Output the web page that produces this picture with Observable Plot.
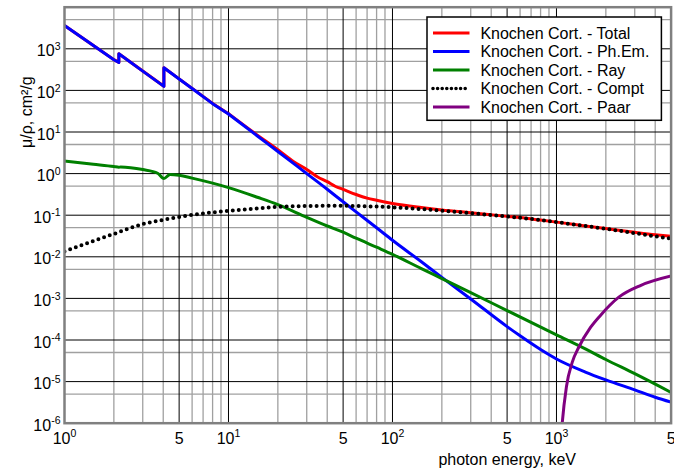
<!DOCTYPE html>
<html>
<head>
<meta charset="utf-8">
<script src="https://cdn.jsdelivr.net/npm/d3@7"></script>
<script src="https://cdn.jsdelivr.net/npm/@observablehq/plot@0.6"></script>
<style>
  html, body { margin: 0; padding: 0; background: white; overflow: hidden; }
  #wrap { position: relative; width: 674px; height: 472px; }
  #legend { position: absolute; left: 426.3px; top: 15.7px; }
</style>
</head>
<body>
<div id="wrap">
  <div id="chart"></div>
  <svg id="legend" width="237" height="106"></svg>
</div>
<script>
// ---------- data (keV, cm²/g) ----------
const seriesNames = ["Knochen Cort. - Total", "Knochen Cort. - Ph.Em.", "Knochen Cort. - Ray", "Knochen Cort. - Compt", "Knochen Cort. - Paar"];
const seriesColors = ["#ff0000", "#0000ff", "#008000", "#000000", "#800080"];

const totalEnergy = [1, 1.5, 2, 2.145, 2.145, 3, 4.038, 4.038, 5, 6, 8, 10, 15, 20, 25, 30, 35, 40, 45, 50, 60, 70, 80, 100, 150, 200, 300, 500, 600, 800, 1000, 1500, 2000, 3000, 4000, 5000];
const totalValues = [3632, 1202, 549, 471.5, 761.5, 292, 126, 351, 189, 112, 48.7, 27.6, 8.4, 3.74, 1.93, 1.26, 0.83, 0.64, 0.49, 0.417, 0.314, 0.257, 0.228, 0.1915, 0.153, 0.134, 0.1144, 0.0937, 0.0875, 0.0762, 0.0682, 0.0553, 0.0477, 0.0388, 0.0339, 0.0311];

const photoEnergy = [1, 1.5, 2, 2.145, 2.145, 3, 4.038, 4.038, 5, 6, 8, 10, 15, 20, 30, 40, 50, 60, 80, 100, 150, 200, 300, 500, 600, 800, 1000, 1500, 2000, 3000, 4000, 5000];
const photoValues = [3630, 1200, 547, 470, 760, 291, 125, 350, 188, 111, 48, 27, 8.0, 3.4, 1.0, 0.42, 0.21, 0.12, 0.05, 0.025, 0.0076, 0.0032, 9.7e-4, 2.1e-4, 1.26e-4, 5.9e-5, 3.5e-5, 1.7e-5, 1.1e-5, 6.3e-6, 4.2e-6, 3.2e-6];

const rayEnergy = [1, 1.5, 2, 2.145, 2.2, 3, 3.7, 4.038, 4.4, 5, 6, 8, 10, 15, 20, 30, 40, 50, 60, 80, 100, 150, 200, 300, 500, 1000, 1500, 2000, 3000, 5000];
const rayValues = [2.0, 1.68, 1.48, 1.42, 1.44, 1.25, 1.02, 0.76, 0.95, 0.91, 0.78, 0.59, 0.46, 0.27, 0.18, 0.089, 0.055, 0.039, 0.028, 0.017, 0.0115, 0.0052, 0.003, 1.38e-3, 5.1e-4, 1.33e-4, 6.1e-5, 3.4e-5, 1.55e-5, 5.5e-6];

const comptEnergy = [1, 1.5, 2, 3, 4, 5, 6, 8, 10, 15, 20, 30, 40, 50, 60, 80, 100, 150, 200, 300, 500, 600, 800, 1000, 1500, 2000, 3000, 4000, 5000];
const comptValues = [0.0135, 0.024, 0.0355, 0.061, 0.077, 0.091, 0.102, 0.117, 0.127, 0.146, 0.158, 0.166, 0.168, 0.168, 0.166, 0.161, 0.155, 0.140, 0.128, 0.112, 0.093, 0.087, 0.076, 0.068, 0.055, 0.047, 0.037, 0.031, 0.0275];

const pairEnergy = [1040, 1084, 1150, 1247, 1368, 1613, 1854, 2400, 3250, 5000];
const pairValues = [1e-7, 1e-6, 7.5e-6, 2.9e-5, 6.7e-5, 2.0e-4, 3.9e-4, 1.07e-3, 2.04e-3, 3.45e-3];

// ---------- axes / ticks ----------
const xDomain = [1, 5000];
const yDomain = [1e-6, 1e4];
const xTickValues = [1, 5, 10, 50, 100, 500, 1000, 5000];
const xTickLabels = ["10^0", "5", "10^1", "5", "10^2", "5", "10^3", "5"];
const yTickValues = [1e-6, 1e-5, 1e-4, 1e-3, 1e-2, 1e-1, 1, 10, 100, 1000];
const yTickLabels = ["10^-6", "10^-5", "10^-4", "10^-3", "10^-2", "10^-1", "10^0", "10^1", "10^2", "10^3"];
const xDecades = [1, 10, 100, 1000];
const xFives = [5, 50, 500];
const minorMultipliers = [2, 3, 4, 6, 7, 8, 9];
const yDecades = [1e-6, 1e-5, 1e-4, 1e-3, 1e-2, 1e-1, 1, 10, 100, 1000, 1e4];
const yFives = [5e-6, 5e-5, 5e-4, 5e-3, 5e-2, 5e-1, 5, 50, 500, 5000];
const xMinor = xDecades.flatMap(d => minorMultipliers.map(m => d * m)).filter(v => v < 5000);

const toRows = (E, V) => E.map((e, i) => ({e, v: V[i]}));
const total = toRows(totalEnergy, totalValues);
const photo = toRows(photoEnergy, photoValues);
const ray = toRows(rayEnergy, rayValues);
const compt = toRows(comptEnergy, comptValues);
const pair = toRows(pairEnergy, pairValues);

const font = "'Liberation Sans', Arial, sans-serif";
const edgeRegion = d => d.e <= 10;   // absorption-edge sawtooth: straight segments
const smoothRegion = d => d.e >= 10; // above the edges: smooth curve

const chart = Plot.plot({
  width: 674,
  height: 472,
  marginLeft: 64,
  marginRight: 3.4,
  marginTop: 6.7,
  marginBottom: 49.3,
  style: {fontFamily: font, fontSize: "16px", background: "white", color: "black"},
  x: {type: "log", domain: xDomain, axis: null},
  y: {type: "log", domain: yDomain, axis: null},
  marks: [
    Plot.ruleX(xMinor, {stroke: "#a0a0a0", strokeWidth: 1.3}),
    Plot.ruleY(yFives, {stroke: "#a0a0a0", strokeWidth: 1.3}),
    Plot.ruleY(yDecades, {stroke: "#000", strokeWidth: 1}),
    Plot.ruleX(xFives, {stroke: "#000", strokeWidth: 1}),
    Plot.ruleX(xDecades, {stroke: "#000", strokeWidth: 1}),
    Plot.line(total, {x: "e", y: "v", filter: edgeRegion, stroke: seriesColors[0], strokeWidth: 3, clip: true}),
    Plot.line(total, {x: "e", y: "v", filter: smoothRegion, stroke: seriesColors[0], strokeWidth: 3, curve: "monotone-x", clip: true}),
    Plot.line(photo, {x: "e", y: "v", filter: edgeRegion, stroke: seriesColors[1], strokeWidth: 3, clip: true}),
    Plot.line(photo, {x: "e", y: "v", filter: smoothRegion, stroke: seriesColors[1], strokeWidth: 3, curve: "monotone-x", clip: true}),
    Plot.line(ray, {x: "e", y: "v", stroke: seriesColors[2], strokeWidth: 3, curve: "monotone-x", clip: true}),
    Plot.line(compt, {x: "e", y: "v", stroke: seriesColors[3], strokeWidth: 4, strokeDasharray: "0 6", strokeLinecap: "round", curve: "monotone-x", clip: true}),
    Plot.line(pair, {x: "e", y: "v", stroke: seriesColors[4], strokeWidth: 3, curve: "monotone-x", clip: true}),
    Plot.frame({stroke: "#808080", strokeWidth: 2.5}),
    Plot.text(xTickValues, {x: d => d, text: (d, i) => xTickLabels[i], frameAnchor: "bottom", textAnchor: "middle", lineAnchor: "middle", dy: 15.2, fontSize: 16}),
    Plot.text(yTickValues, {y: d => d, text: (d, i) => yTickLabels[i], frameAnchor: "left", textAnchor: "end", lineAnchor: "middle", dx: -4, dy: 2.5, fontSize: 16}),
    Plot.text(["μ/ρ, cm²/g"], {frameAnchor: "left", textAnchor: "middle", lineAnchor: "middle", rotate: -90, dx: -38, dy: -103, fontSize: 16}),
    Plot.text(["photon energy, keV"], {frameAnchor: "bottom", textAnchor: "middle", lineAnchor: "middle", dx: 139.4, dy: 36.2, fontSize: 16})
  ]
});

// superscript exponents
d3.select(chart).selectAll("text").each(function () {
  const t = this.textContent;
  if (t.includes("^")) {
    const [base, exp] = t.split("^");
    this.textContent = base;
    d3.select(this).append("tspan").attr("dy", -6.5).attr("font-size", 10.5).text(exp);
  }
});
document.getElementById("chart").appendChild(chart);

// ---------- legend ----------
const lg = d3.select("#legend");
lg.append("rect").attr("x", 1).attr("y", 1).attr("width", 234.4).attr("height", 103.3)
  .attr("fill", "white").attr("stroke", "black").attr("stroke-width", 1.5);
const rowY = [17, 35.5, 54, 72.5, 91];
seriesNames.forEach((name, i) => {
  const ln = lg.append("line").attr("x1", 7).attr("x2", 43.5).attr("y1", rowY[i]).attr("y2", rowY[i])
    .attr("stroke", seriesColors[i]);
  if (i === 3) {
    ln.attr("stroke-width", 3.6).attr("stroke-dasharray", "0 4.6").attr("stroke-linecap", "round").attr("x2", 41);
  } else {
    ln.attr("stroke-width", 3);
  }
  lg.append("text").attr("x", 54.4).attr("y", rowY[i]).attr("dy", 5.8)
    .attr("font-family", font).attr("font-size", 16).attr("fill", "black").text(name);
});
</script>
</body>
</html>
